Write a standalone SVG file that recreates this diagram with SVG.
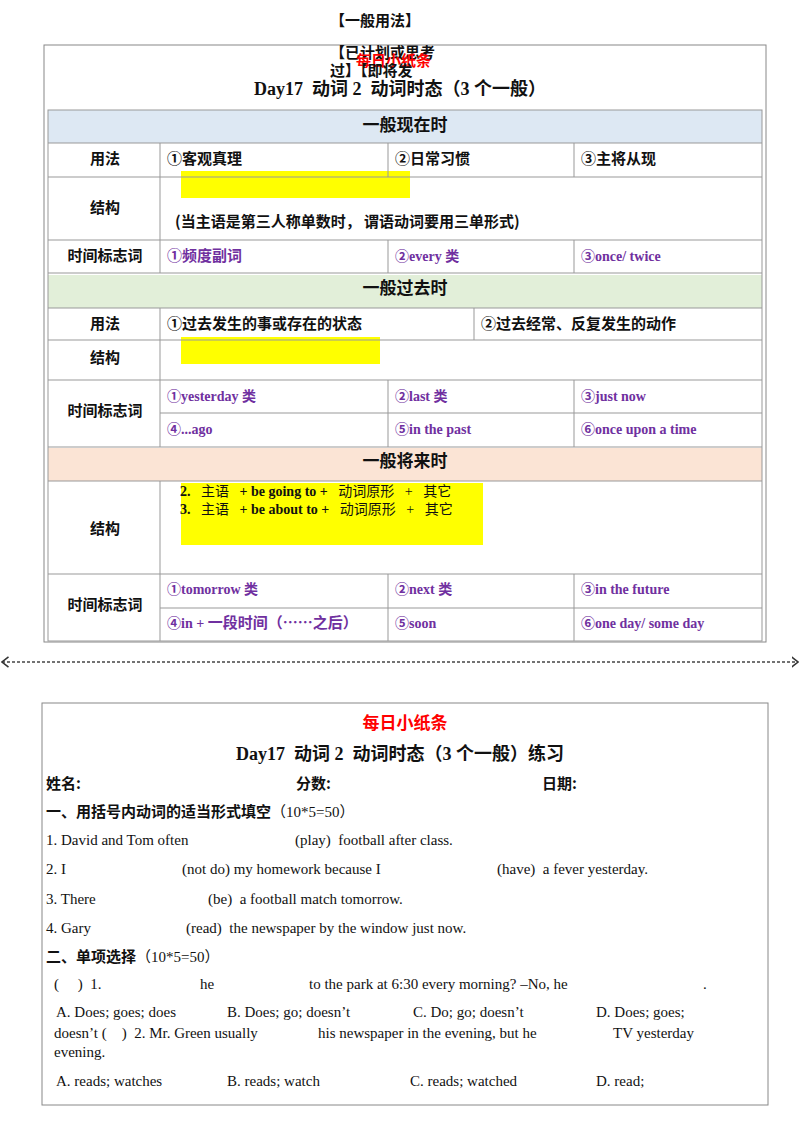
<svg xmlns="http://www.w3.org/2000/svg" width="800" height="1132" viewBox="0 0 800 1132">
<style>
text{white-space:pre}
.c{font-family:"Noto Sans CJK SC","Liberation Sans",sans-serif;font-weight:bold;font-size:15px;fill:#111}
.t{font-family:"Liberation Serif","Noto Sans CJK SC",serif;font-weight:bold;font-size:18px;fill:#111}
.p{font-family:"Liberation Serif","Noto Sans CJK SC",serif;font-weight:bold;font-size:14px;fill:#7030a0}
.s{font-family:"Liberation Serif","Noto Sans CJK SC",serif;font-size:15px;fill:#111}
.g{stroke:#999;stroke-width:1;fill:none}
.h{font-family:"Noto Sans CJK SC",sans-serif;font-weight:bold;font-size:17px;fill:#111}
</style>
<defs>
<marker id="a" viewBox="0 0 6 10" refX="5" refY="5" markerWidth="6" markerHeight="10" orient="auto-start-reverse"><path d="M0,1 L5,5 L0,9" fill="none" stroke="#333" stroke-width="1.2"/></marker>
</defs>
<rect width="800" height="1132" fill="#fff"/>
<g id="top">
<text x="375" y="26" class="c" text-anchor="middle">【一般用法】</text>
<rect x="44" y="45" width="722" height="597" fill="none" stroke="#888"/>
<text x="330" y="58" class="c">【已计划或思考</text>
<text x="356" y="66" class="c" style="fill:#f00">每日小纸条</text>
<text x="330" y="76" class="c">过】【即将发</text>
<text x="400" y="95" class="t" text-anchor="middle">Day17  动词 2  动词时态（3 个一般）</text>
</g>
<g id="table">
<rect x="48" y="110" width="714" height="33" fill="#dde8f3"/>
<rect x="48" y="275" width="714" height="33" fill="#e2efd9"/>
<rect x="48" y="448" width="714" height="33" fill="#fbe4d5"/>
<rect x="181" y="171" width="229" height="27" fill="#ffff00"/>
<rect x="181" y="337" width="199" height="27" fill="#ffff00"/>
<rect x="181" y="483" width="302" height="62" fill="#ffff00"/>
<g class="g">
<rect x="48" y="110" width="714" height="531"/>
<path d="M48 143H762M48 177H762M48 240H762M48 273H762M48 308H762M48 340H762M48 380H762M160 413H762M48 447H762M48 481H762M48 574H762M160 608H762"/>
<path d="M160 143V273M388 143V177M574 143V177M388 240V273M574 240V273M160 308V447M474 308V340M388 380V447M574 380V447M160 481V641M388 574V641M574 574V641"/>
</g>
<text x="405" y="131" class="h" text-anchor="middle">一般现在时</text>
<text x="105" y="164" class="c" text-anchor="middle">用法</text>
<text x="167" y="164" class="c">①客观真理</text>
<text x="395" y="164" class="c">②日常习惯</text>
<text x="581" y="164" class="c">③主将从现</text>
<text x="105" y="213" class="c" text-anchor="middle">结构</text>
<text x="175" y="227" class="c">(当主语是第三人称单数时， 谓语动词要用三单形式)</text>
<text x="105" y="261" class="c" text-anchor="middle">时间标志词</text>
<text x="167" y="261" class="c" style="fill:#7030a0">①频度副词</text>
<text x="395" y="261" class="p">②every 类</text>
<text x="581" y="261" class="p">③once/ twice</text>
<text x="405" y="294" class="h" text-anchor="middle">一般过去时</text>
<text x="105" y="329" class="c" text-anchor="middle">用法</text>
<text x="167" y="329" class="c">①过去发生的事或存在的状态</text>
<text x="481" y="329" class="c">②过去经常、反复发生的动作</text>
<text x="105" y="363" class="c" text-anchor="middle">结构</text>
<text x="105" y="416" class="c" text-anchor="middle">时间标志词</text>
<text x="167" y="401" class="p">①yesterday 类</text>
<text x="395" y="401" class="p">②last 类</text>
<text x="581" y="401" class="p">③just now</text>
<text x="167" y="434" class="p">④...ago</text>
<text x="395" y="434" class="p">⑤in the past</text>
<text x="581" y="434" class="p">⑥once upon a time</text>
<text x="405" y="467" class="h" text-anchor="middle">一般将来时</text>
<text x="180" y="496" class="s" style="font-size:14px"><tspan font-weight="bold">2.</tspan>   主语   <tspan font-weight="bold">+ be going to +</tspan>   动词原形   +   其它</text>
<text x="180" y="514" class="s" style="font-size:14px"><tspan font-weight="bold">3.</tspan>   主语   <tspan font-weight="bold">+ be about to +</tspan>   动词原形   +   其它</text>
<text x="105" y="534" class="c" text-anchor="middle">结构</text>
<text x="105" y="610" class="c" text-anchor="middle">时间标志词</text>
<text x="167" y="594" class="p">①tomorrow 类</text>
<text x="395" y="594" class="p">②next 类</text>
<text x="581" y="594" class="p">③in the future</text>
<text x="167" y="628" class="p">④in + <tspan style="font-family:'Noto Sans CJK SC',sans-serif;font-size:15px">一段时间（……之后）</tspan></text>
<text x="395" y="628" class="p">⑤soon</text>
<text x="581" y="628" class="p">⑥one day/ some day</text>
</g>
<g id="connectors">
<line x1="2" y1="662" x2="798" y2="662" stroke="#444" stroke-width="1.3" stroke-dasharray="3,2" marker-start="url(#a)" marker-end="url(#a)"/>
</g>
<g id="practice">
<rect x="42" y="703" width="726" height="402" fill="none" stroke="#888"/>
<text x="405" y="729" class="c" text-anchor="middle" style="fill:#f00;font-size:17px">每日小纸条</text>
<text x="400" y="760" class="t" text-anchor="middle">Day17  动词 2  动词时态（3 个一般）练习</text>
<text x="46" y="789" class="c">姓名:</text>
<text x="296" y="789" class="c">分数:</text>
<text x="542" y="789" class="c">日期:</text>
<text x="46" y="817" class="c">一、用括号内动词的适当形式填空<tspan class="s" style="font-weight:normal">（10*5=50）</tspan></text>
<text x="46" y="845" class="s">1. David and Tom often</text>
<text x="295" y="845" class="s">(play)  football after class.</text>
<text x="46" y="874" class="s">2. I</text>
<text x="182" y="874" class="s">(not do) my homework because I</text>
<text x="497" y="874" class="s">(have)  a fever yesterday.</text>
<text x="46" y="904" class="s">3. There</text>
<text x="208" y="904" class="s">(be)  a football match tomorrow.</text>
<text x="46" y="933" class="s">4. Gary</text>
<text x="186" y="933" class="s">(read)  the newspaper by the window just now.</text>
<text x="46" y="962" class="c">二、单项选择<tspan class="s" style="font-weight:normal">（10*5=50）</tspan></text>
<text x="54" y="989" class="s">(     )  1.</text>
<text x="200" y="989" class="s">he</text>
<text x="309" y="989" class="s">to the park at 6:30 every morning? –No, he</text>
<text x="703" y="989" class="s">.</text>
<text x="56" y="1017" class="s">A. Does; goes; does</text>
<text x="227" y="1017" class="s">B. Does; go; doesn’t</text>
<text x="413" y="1017" class="s">C. Do; go; doesn’t</text>
<text x="596" y="1017" class="s">D. Does; goes;</text>
<text x="54" y="1038" class="s">doesn’t (    )  2. Mr. Green usually</text>
<text x="318" y="1038" class="s">his newspaper in the evening, but he</text>
<text x="613" y="1038" class="s">TV yesterday</text>
<text x="54" y="1057" class="s">evening.</text>
<text x="56" y="1086" class="s">A. reads; watches</text>
<text x="227" y="1086" class="s">B. reads; watch</text>
<text x="410" y="1086" class="s">C. reads; watched</text>
<text x="596" y="1086" class="s">D. read;</text>
</g>
</svg>
